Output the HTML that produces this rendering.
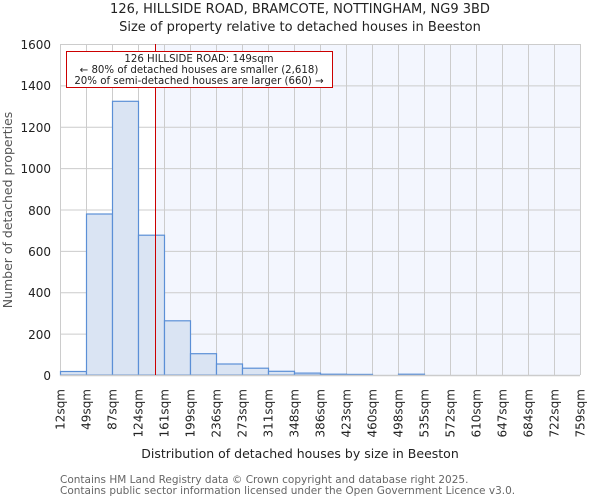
<!DOCTYPE html><html><head><style>body{margin:0;background:#fff}svg{display:block;font-family:"DejaVu Sans","Liberation Sans",sans-serif}</style></head><body>
<svg width="600" height="500" xmlns="http://www.w3.org/2000/svg">
<text x="300" y="13" text-anchor="middle" font-size="13" fill="#222">126, HILLSIDE ROAD, BRAMCOTE, NOTTINGHAM, NG9 3BD</text>
<text x="300" y="31" text-anchor="middle" font-size="13" fill="#222">Size of property relative to detached houses in Beeston</text>
<rect x="155" y="44" width="425" height="331" fill="#f3f6fe"/>
<g stroke="#cccccc" stroke-width="1">
<line x1="60" y1="44.5" x2="580" y2="44.5"/><line x1="60" y1="85.9" x2="580" y2="85.9"/><line x1="60" y1="127.3" x2="580" y2="127.3"/><line x1="60" y1="168.6" x2="580" y2="168.6"/><line x1="60" y1="210" x2="580" y2="210"/><line x1="60" y1="251.4" x2="580" y2="251.4"/><line x1="60" y1="292.8" x2="580" y2="292.8"/><line x1="60" y1="334.1" x2="580" y2="334.1"/>
<line x1="60.5" y1="44" x2="60.5" y2="375"/><line x1="86.5" y1="44" x2="86.5" y2="375"/><line x1="112.5" y1="44" x2="112.5" y2="375"/><line x1="138.5" y1="44" x2="138.5" y2="375"/><line x1="164.5" y1="44" x2="164.5" y2="375"/><line x1="190.5" y1="44" x2="190.5" y2="375"/><line x1="216.5" y1="44" x2="216.5" y2="375"/><line x1="242.5" y1="44" x2="242.5" y2="375"/><line x1="268.5" y1="44" x2="268.5" y2="375"/><line x1="294.5" y1="44" x2="294.5" y2="375"/><line x1="320.5" y1="44" x2="320.5" y2="375"/><line x1="346.5" y1="44" x2="346.5" y2="375"/><line x1="372.5" y1="44" x2="372.5" y2="375"/><line x1="398.5" y1="44" x2="398.5" y2="375"/><line x1="424.5" y1="44" x2="424.5" y2="375"/><line x1="450.5" y1="44" x2="450.5" y2="375"/><line x1="476.5" y1="44" x2="476.5" y2="375"/><line x1="502.5" y1="44" x2="502.5" y2="375"/><line x1="528.5" y1="44" x2="528.5" y2="375"/><line x1="554.5" y1="44" x2="554.5" y2="375"/><line x1="580.5" y1="44" x2="580.5" y2="375"/>
</g>
<g fill="#dae4f3" stroke="#5b8fd6" stroke-width="1.2">
<rect x="60.5" y="371.5" width="26" height="3.5"/>
<rect x="86.5" y="214" width="26" height="161"/>
<rect x="112.5" y="101.3" width="26" height="273.7"/>
<rect x="138.5" y="235.2" width="26" height="139.8"/>
<rect x="164.5" y="320.8" width="26" height="54.2"/>
<rect x="190.5" y="353.7" width="26" height="21.3"/>
<rect x="216.5" y="364" width="26" height="11"/>
<rect x="242.5" y="368.2" width="26" height="6.8"/>
<rect x="268.5" y="371.3" width="26" height="3.7"/>
<rect x="294.5" y="373.1" width="26" height="1.9"/>
<rect x="320.5" y="374.2" width="26" height="0.8"/>
<rect x="346.5" y="374.4" width="26" height="0.6"/>
<rect x="398.5" y="374.2" width="26" height="0.8"/>
</g>
<line x1="60" y1="375.5" x2="580" y2="375.5" stroke="#ccc" stroke-width="1.5"/>
<line x1="155.5" y1="44" x2="155.5" y2="375" stroke="#cc0000" stroke-width="1"/>
<rect x="66.5" y="51.5" width="266" height="36" fill="#fff" stroke="#c00" stroke-width="1"/>
<g font-size="10.2" fill="#222" text-anchor="middle">
<text x="199" y="62">126 HILLSIDE ROAD: 149sqm</text>
<text x="199" y="73">← 80% of detached houses are smaller (2,618)</text>
<text x="199" y="84">20% of semi-detached houses are larger (660) →</text>
</g>
<g font-size="12" fill="#222" text-anchor="end">
<text x="51" y="49">1600</text><text x="51" y="90">1400</text><text x="51" y="132">1200</text><text x="51" y="173">1000</text><text x="51" y="215">800</text><text x="51" y="256">600</text><text x="51" y="297">400</text><text x="51" y="339">200</text><text x="51" y="380">0</text>
</g>
<text transform="translate(12,210) rotate(-90)" text-anchor="middle" font-size="12.5" fill="#555">Number of detached properties</text>
<g font-size="12" fill="#222" text-anchor="end">
<text transform="translate(64.5,389) rotate(-90)">12sqm</text>
<text transform="translate(90.5,389) rotate(-90)">49sqm</text>
<text transform="translate(116.5,389) rotate(-90)">87sqm</text>
<text transform="translate(142.5,389) rotate(-90)">124sqm</text>
<text transform="translate(168.5,389) rotate(-90)">161sqm</text>
<text transform="translate(194.5,389) rotate(-90)">199sqm</text>
<text transform="translate(220.5,389) rotate(-90)">236sqm</text>
<text transform="translate(246.5,389) rotate(-90)">273sqm</text>
<text transform="translate(272.5,389) rotate(-90)">311sqm</text>
<text transform="translate(298.5,389) rotate(-90)">348sqm</text>
<text transform="translate(324.5,389) rotate(-90)">386sqm</text>
<text transform="translate(350.5,389) rotate(-90)">423sqm</text>
<text transform="translate(376.5,389) rotate(-90)">460sqm</text>
<text transform="translate(402.5,389) rotate(-90)">498sqm</text>
<text transform="translate(428.5,389) rotate(-90)">535sqm</text>
<text transform="translate(454.5,389) rotate(-90)">572sqm</text>
<text transform="translate(480.5,389) rotate(-90)">610sqm</text>
<text transform="translate(506.5,389) rotate(-90)">647sqm</text>
<text transform="translate(532.5,389) rotate(-90)">684sqm</text>
<text transform="translate(558.5,389) rotate(-90)">722sqm</text>
<text transform="translate(584.5,389) rotate(-90)">759sqm</text>
</g>
<text x="300" y="458" text-anchor="middle" font-size="12.5" fill="#222">Distribution of detached houses by size in Beeston</text>
<text x="60" y="483" font-size="10.5" fill="#666">Contains HM Land Registry data © Crown copyright and database right 2025.</text>
<text x="60" y="494" font-size="10.5" fill="#666">Contains public sector information licensed under the Open Government Licence v3.0.</text>
</svg>
</body></html>
